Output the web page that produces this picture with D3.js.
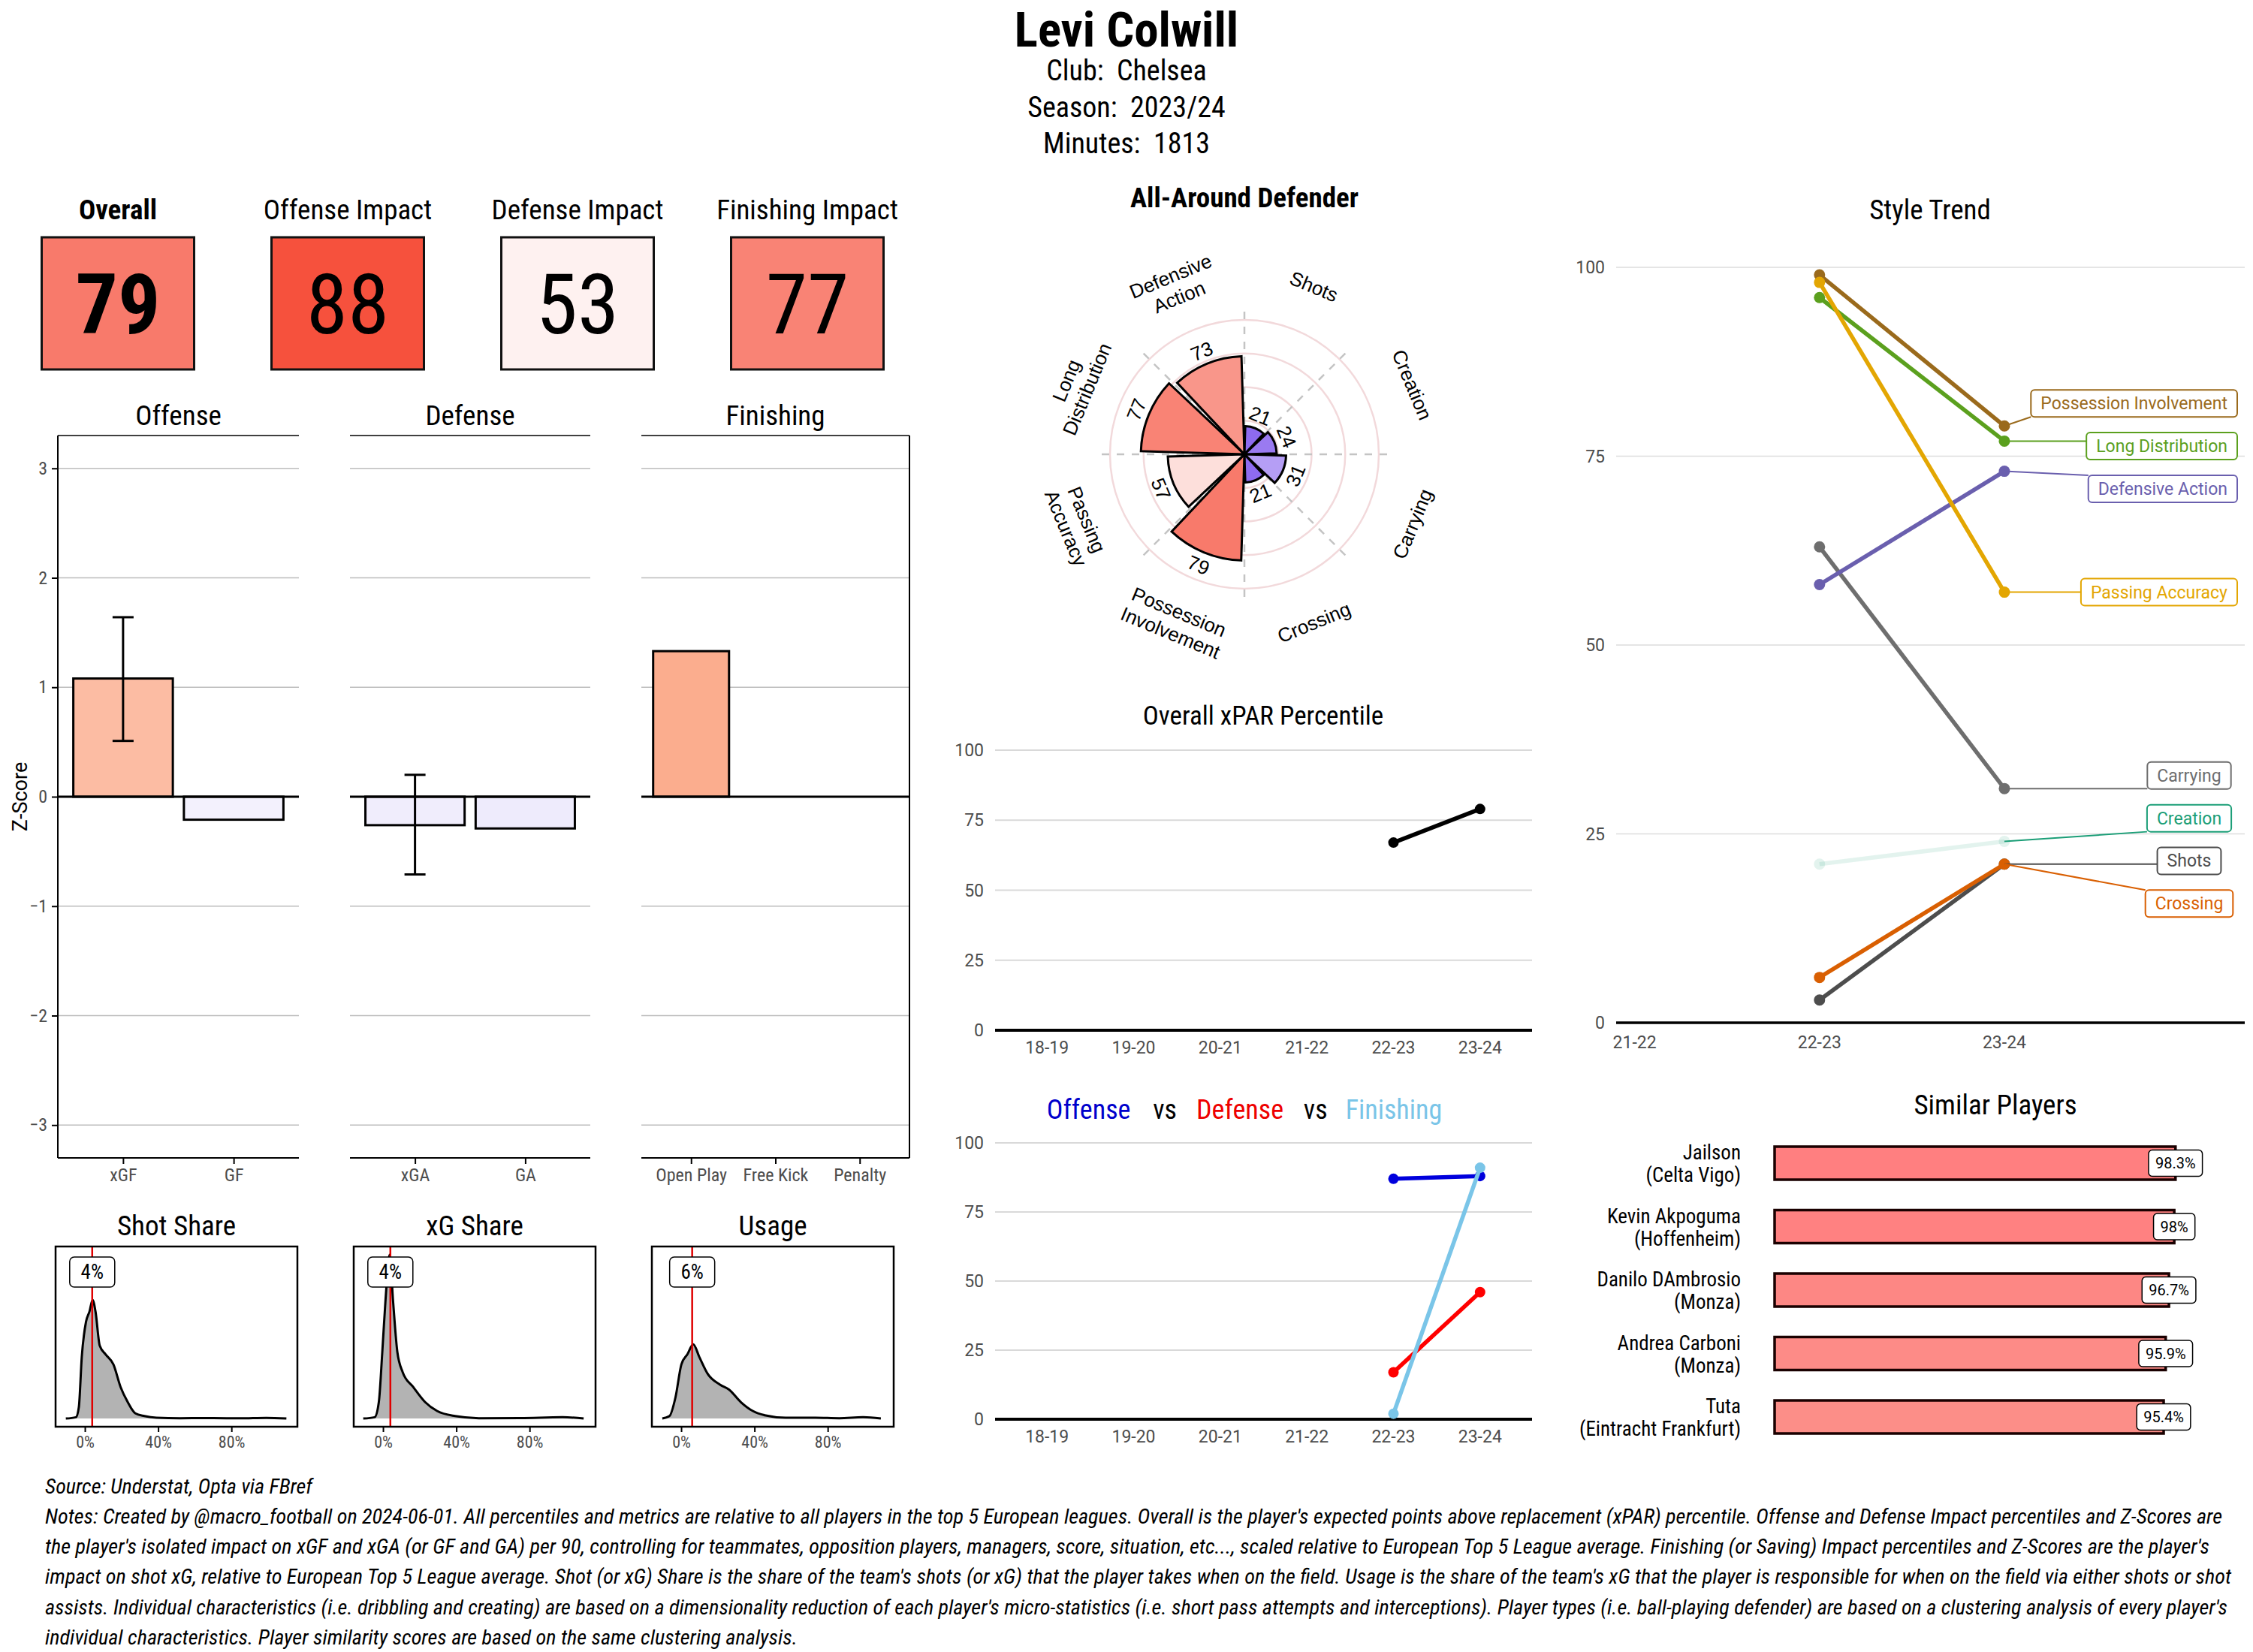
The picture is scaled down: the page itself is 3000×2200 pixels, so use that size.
<!DOCTYPE html>
<html>
<head>
<meta charset="utf-8">
<script src="https://cdn.jsdelivr.net/npm/d3@7"></script>
<style>
body { margin: 0; background: #fff; }
text { white-space: pre; }
</style>
</head>
<body>
<div id="canvas-container"></div>
<script>
// ---- data ----
var playerName = "Levi Colwill";
var infoLines = ["Club:  Chelsea", "Season:  2023/24", "Minutes:  1813"];

var scoreNames = ["Overall", "Offense Impact", "Defense Impact", "Finishing Impact"];
var scoreValues = [79, 88, 53, 77];

var offenseCats = ["xGF", "GF"];
var offenseZ = [1.08, -0.21];
var offenseErr = [0.51, 1.64];      // interval on xGF
var defenseCats = ["xGA", "GA"];
var defenseZ = [-0.26, -0.29];
var defenseErr = [-0.71, 0.20];     // interval on xGA
var finishCats = ["Open Play", "Free Kick", "Penalty"];
var finishZ = [1.33, 0, 0];
var zTicks = [-3, -2, -1, 0, 1, 2, 3];

var shareTitles = ["Shot Share", "xG Share", "Usage"];
var shareValues = [0.04, 0.04, 0.06];
var shareTicks = [0, 0.4, 0.8];
// density curves: [share %, density]
var shotShareDens = [[-10.4,0],[-4.9,0.08],[-3.3,0.69],[-1.7,3.76],[0.6,5.9],[2.5,6.53],[4.2,7.24],[5.8,6.53],[8.1,4.45],[11.3,3.92],[15.6,3.3],[19.5,1.92],[23.4,1.0],[27.6,0.31],[32.5,0.15],[39,0.05],[52,0.02],[70,0.03],[84.6,0.01],[99,0.04],[110,0]];
var xgShareDens = [[-10.8,0],[-4.6,0.08],[-2.3,1.0],[-0.4,4.07],[1.3,7.14],[3.6,10],[5.5,7.14],[7.8,4.07],[10.7,2.84],[16.5,1.92],[23,1.0],[29.5,0.46],[39.3,0.15],[52.3,0.02],[75,0.03],[98,0.08],[109.5,0]];
var usageDens = [[-10.3,0],[-6.4,0.15],[-3.1,1.3],[0.1,3.3],[3.4,3.92],[6.6,4.53],[9.9,3.76],[14.7,2.69],[21.2,2.07],[26.1,1.77],[32.6,1.0],[39.1,0.46],[45.6,0.2],[57,0.05],[73.3,0.05],[86.3,0.02],[99.3,0.08],[109,0]];

var styleTitle = "All-Around Defender";
var styleCats = ["Shots", "Creation", "Carrying", "Crossing", "Possession\nInvolvement", "Passing\nAccuracy", "Long\nDistribution", "Defensive\nAction"];
var styleValues = [21, 24, 31, 21, 79, 57, 77, 73];
var polarGrid = [25, 50, 75, 100];

var seasons = ["18-19", "19-20", "20-21", "21-22", "22-23", "23-24"];
var pctTicks = [0, 25, 50, 75, 100];
var xparSeasons = ["22-23", "23-24"];
var xparValues = [67, 79];
var offensePct = [87, 88];
var defensePct = [17, 46];
var finishingPct = [2, 91];

var trendSeasons = ["21-22", "22-23", "23-24"];
var trendNames = ["Carrying", "Shots", "Creation", "Crossing", "Defensive Action", "Long Distribution", "Possession Involvement", "Passing Accuracy"];
var trend2223 = [63, 3, 21, 6, 58, 96, 99, 98];
var trend2324 = [31, 21, 24, 21, 73, 77, 79, 57];

var simNames = ["Jailson", "Kevin Akpoguma", "Danilo DAmbrosio", "Andrea Carboni", "Tuta"];
var simClubs = ["Celta Vigo", "Hoffenheim", "Monza", "Monza", "Eintracht Frankfurt"];
var simValues = [98.3, 98, 96.7, 95.9, 95.4];

var sourceLine = "Source: Understat, Opta via FBref";
var noteLines = [
    "Notes: Created by @macro_football on 2024-06-01. All percentiles and metrics are relative to all players in the top 5 European leagues. Overall is the player's expected points above replacement (xPAR) percentile. Offense and Defense Impact percentiles and Z-Scores are",
    "the player's isolated impact on xGF and xGA (or GF and GA) per 90, controlling for teammates, opposition players, managers, score, situation, etc..., scaled relative to European Top 5 League average. Finishing (or Saving) Impact percentiles and Z-Scores are the player's",
    "impact on shot xG, relative to European Top 5 League average. Shot (or xG) Share is the share of the team's shots (or xG) that the player takes when on the field. Usage is the share of the team's xG that the player is responsible for when on the field via either shots or shot",
    "assists. Individual characteristics (i.e. dribbling and creating) are based on a dimensionality reduction of each player's micro-statistics (i.e. short pass attempts and interceptions). Player types (i.e. ball-playing defender) are based on a clustering analysis of every player's",
    "individual characteristics. Player similarity scores are based on the same clustering analysis."
];

// ---- styles ----
var COND = "'Roboto Condensed','Liberation Sans Narrow','Arial Narrow',Roboto,sans-serif";
var ROBO = "Roboto,'Liberation Sans',sans-serif";
var ARIAL = "'Liberation Sans',Arial,Helvetica,sans-serif";
var GREY = "#4d4d4d";

var pctColor = d3.scaleLinear().domain([0, 50, 100]).range(["#3c00e5", "#ffffff", "#f31a00"]);
var zColor = d3.scaleLinear().domain([-3, 0, 3]).range(["#5030e0", "#ffffff", "#f74500"]);
var trendColor = d3.scaleOrdinal()
    .domain(["Carrying", "Shots", "Creation", "Crossing", "Defensive Action", "Long Distribution", "Possession Involvement", "Passing Accuracy"])
    .range(["#6e6e6e", "#4d4d4d", "#1b9e77", "#d95f02", "#6a5fae", "#5ba01e", "#9a6a1c", "#e3a602"]);

var W = 3000, H = 2200;
var svg = d3.select("#canvas-container").append("svg")
    .attr("width", W)
    .attr("height", H);
svg.append("rect").attr("width", W).attr("height", H).attr("fill", "#fff");

function txt(x, y, s, size, fam, opts) {
    opts = opts || {};
    var t = svg.append("text")
        .attr("x", x).attr("y", y)
        .attr("font-size", size)
        .attr("font-family", fam)
        .attr("text-anchor", opts.anchor || "middle")
        .attr("fill", opts.fill || "#000")
        .text(s);
    if (opts.weight) t.attr("font-weight", opts.weight);
    if (opts.style) t.attr("font-style", opts.style);
    return t;
}

drawHeader();
drawScores();
drawZPanels();
drawShares();
drawPolar();
drawXpar();
drawOdf();
drawTrend();
drawSimilar();
drawNotes();

function drawHeader() {
    txt(1500, 62, playerName, 65, COND, {weight: "bold"});
    for (var i = 0; i < infoLines.length; i++) {
        txt(1500, 107 + i * 48.5, infoLines[i], 38, COND);
    }
}

function drawScores() {
    var x = d3.scalePoint().domain(scoreNames).range([157, 1075]);
    var bw = 203, top = 316, bh = 176;
    scoreNames.forEach(function(n, i) {
        var cx = x(n);
        txt(cx, 292, n, 37, COND, {weight: i == 0 ? "bold" : null});
        svg.append("rect")
            .attr("x", cx - bw/2).attr("y", top)
            .attr("width", bw).attr("height", bh)
            .attr("fill", pctColor(scoreValues[i]))
            .attr("stroke", "#111").attr("stroke-width", 3);
        txt(cx, top + bh/2 + 40, scoreValues[i], 112, COND, {weight: i == 0 ? "bold" : null});
    });
}

function drawZPanels() {
    var y = d3.scaleLinear().domain([-3.3, 3.3]).range([1542, 580]);
    var panels = [
        {title: "Offense", x0: 77, x1: 398, cats: offenseCats, vals: offenseZ, err: offenseErr, left: true},
        {title: "Defense", x0: 466, x1: 786, cats: defenseCats, vals: defenseZ, err: defenseErr},
        {title: "Finishing", x0: 854, x1: 1211, cats: finishCats, vals: finishZ, right: true}
    ];
    panels.forEach(function(p) {
        var x = d3.scalePoint().domain(p.cats).range([p.x0, p.x1]).padding(0.59);
        var bwid = x.step() * 0.9;
        var g = svg.append("g");
        zTicks.forEach(function(t) {
            if (t == 0) return;
            g.append("line").attr("x1", p.x0).attr("x2", p.x1)
                .attr("y1", y(t)).attr("y2", y(t))
                .attr("stroke", "#bdbdbd").attr("stroke-width", 1.5);
        });
        p.cats.forEach(function(c, i) {
            var v = p.vals[i];
            g.append("rect")
                .attr("x", x(c) - bwid/2)
                .attr("y", Math.min(y(v), y(0)))
                .attr("width", bwid)
                .attr("height", Math.abs(y(v) - y(0)))
                .attr("fill", zColor(v))
                .attr("stroke", "#000").attr("stroke-width", 3);
        });
        g.append("line").attr("x1", p.x0).attr("x2", p.x1)
            .attr("y1", y(0)).attr("y2", y(0))
            .attr("stroke", "#000").attr("stroke-width", 3);
        if (p.err) {
            var ex = x(p.cats[0]);
            g.append("line").attr("x1", ex).attr("x2", ex)
                .attr("y1", y(p.err[0])).attr("y2", y(p.err[1]))
                .attr("stroke", "#000").attr("stroke-width", 3);
            p.err.forEach(function(e) {
                g.append("line").attr("x1", ex - 14).attr("x2", ex + 14)
                    .attr("y1", y(e)).attr("y2", y(e))
                    .attr("stroke", "#000").attr("stroke-width", 3);
            });
        }
        // frame
        g.append("line").attr("x1", p.x0).attr("x2", p.x1).attr("y1", 580).attr("y2", 580)
            .attr("stroke", "#000").attr("stroke-width", 1.5);
        var xa = g.append("g").attr("transform", "translate(0,1542)")
            .call(d3.axisBottom(x).tickSize(8).tickPadding(6));
        xa.select(".domain").attr("d", "M" + p.x0 + ",0H" + p.x1).attr("stroke-width", 2);
        xa.selectAll(".tick line").attr("stroke-width", 2);
        xa.selectAll("text").attr("font-size", 24).attr("font-family", COND).attr("fill", GREY);
        if (p.left) {
            var ya = g.append("g").attr("transform", "translate(" + p.x0 + ",0)")
                .call(d3.axisLeft(y).tickValues(zTicks).tickFormat(d3.format("d")).tickSize(8).tickPadding(6));
            ya.select(".domain").attr("d", "M0,580V1542").attr("stroke-width", 2);
            ya.selectAll(".tick line").attr("stroke-width", 2);
            ya.selectAll("text").attr("font-size", 24).attr("font-family", COND).attr("fill", GREY);
            svg.append("text")
                .attr("transform", "translate(36," + y(0) + ") rotate(-90)")
                .attr("text-anchor", "middle")
                .attr("font-size", 27).attr("font-family", ROBO)
                .text("Z-Score");
        }
        if (p.right) {
            g.append("line").attr("x1", p.x1).attr("x2", p.x1).attr("y1", 580).attr("y2", 1542)
                .attr("stroke", "#000").attr("stroke-width", 2);
        }
        txt((p.x0 + p.x1)/2, 566, p.title, 37, COND);
    });
}

function drawShares() {
    var dens = [shotShareDens, xgShareDens, usageDens];
    var lefts = [74, 471, 868];
    var pw = 322, top = 1660, bot = 1900;
    shareTitles.forEach(function(title, k) {
        var x0 = lefts[k];
        var x = d3.scaleLinear().domain([-0.16, 1.16]).range([x0, x0 + pw]);
        var y = d3.scaleLinear().domain([-0.5, 10.5]).range([bot, top]);
        var pts = dens[k];
        var g = svg.append("g");
        var area = d3.area()
            .x(function(d) { return x(d[0] / 100); })
            .y0(y(0))
            .y1(function(d) { return y(d[1]); })
            .curve(d3.curveMonotoneX);
        var line = d3.line()
            .x(function(d) { return x(d[0] / 100); })
            .y(function(d) { return y(d[1]); })
            .curve(d3.curveMonotoneX);
        g.append("path").attr("d", area(pts)).attr("fill", "#b3b3b3");
        g.append("path").attr("d", line(pts)).attr("fill", "none")
            .attr("stroke", "#000").attr("stroke-width", 3);
        var vx = x(shareValues[k]);
        g.append("line").attr("x1", vx).attr("x2", vx).attr("y1", top).attr("y2", bot)
            .attr("stroke", "#e00000").attr("stroke-width", 2.5);
        g.append("rect").attr("x", vx - 30).attr("y", 1674).attr("width", 60).attr("height", 40)
            .attr("rx", 6).attr("fill", "#fff").attr("stroke", "#000").attr("stroke-width", 1.5);
        txt(vx, 1703, Math.round(shareValues[k] * 100) + "%", 27, COND);
        g.append("rect").attr("x", x0).attr("y", top).attr("width", pw).attr("height", bot - top)
            .attr("fill", "none").attr("stroke", "#000").attr("stroke-width", 2.5);
        var xa = g.append("g").attr("transform", "translate(0," + bot + ")")
            .call(d3.axisBottom(x).tickValues(shareTicks).tickFormat(d3.format(".0%")).tickSize(7).tickPadding(5));
        xa.select(".domain").remove();
        xa.selectAll(".tick line").attr("stroke-width", 2);
        xa.selectAll("text").attr("font-size", 22).attr("font-family", COND).attr("fill", GREY);
        txt(x0 + pw/2, 1645, title, 37, COND);
    });
}

function drawPolar() {
    var cx = 1657, cy = 605;
    var r = d3.scaleLinear().domain([0, 100]).range([0, 179]);
    var g = svg.append("g").attr("transform", "translate(" + cx + "," + cy + ")");
    txt(cx, 276, styleTitle, 37, COND, {weight: "bold"});
    polarGrid.forEach(function(v) {
        g.append("circle").attr("r", r(v)).attr("fill", "none")
            .attr("stroke", "#f2d9db").attr("stroke-width", 2.5);
    });
    var n = styleCats.length, sec = 2 * Math.PI / n;
    for (var k = 0; k < n; k++) {
        var a = k * sec;
        g.append("line").attr("x1", 0).attr("y1", 0)
            .attr("x2", 196 * Math.sin(a)).attr("y2", -196 * Math.cos(a))
            .attr("stroke", "#c4c4c4").attr("stroke-width", 2.5)
            .attr("stroke-dasharray", "10,10");
    }
    var arc = d3.arc().innerRadius(0);
    styleValues.forEach(function(v, i) {
        g.append("path")
            .attr("d", arc({outerRadius: r(v), startAngle: i * sec + 0.03, endAngle: (i + 1) * sec - 0.03}))
            .attr("fill", pctColor(v))
            .attr("stroke", "#000").attr("stroke-width", 3);
    });
    function rot(a) {
        var deg = a * 180 / Math.PI;
        return (deg > 90 && deg < 270) ? deg - 180 : deg;
    }
    styleValues.forEach(function(v, i) {
        var a = (i + 0.5) * sec, rr = r(v) + 18;
        g.append("text")
            .attr("transform", "translate(" + rr * Math.sin(a) + "," + (-rr * Math.cos(a)) + ") rotate(" + rot(a) + ")")
            .attr("text-anchor", "middle").attr("dy", "0.36em")
            .attr("font-size", 26).attr("font-family", ARIAL)
            .text(v);
    });
    styleCats.forEach(function(c, i) {
        var a = (i + 0.5) * sec, R = 242;
        var lines = c.split("\n");
        var t = g.append("text")
            .attr("transform", "translate(" + R * Math.sin(a) + "," + (-R * Math.cos(a)) + ") rotate(" + rot(a) + ")")
            .attr("text-anchor", "middle")
            .attr("font-size", 26).attr("font-family", ARIAL);
        lines.forEach(function(l, j) {
            t.append("tspan").attr("x", 0)
                .attr("y", (j - (lines.length - 1) / 2) * 30)
                .attr("dy", "0.36em")
                .text(l);
        });
    });
}

function lineChart(yTop, yBot, series) {
    var x = d3.scalePoint().domain(seasons).range([1325, 2040]).padding(0.6);
    var y = d3.scaleLinear().domain([0, 100]).range([yBot, yTop]);
    var g = svg.append("g");
    pctTicks.forEach(function(t) {
        if (t > 0) {
            g.append("line").attr("x1", 1325).attr("x2", 2040).attr("y1", y(t)).attr("y2", y(t))
                .attr("stroke", "#d9d9d9").attr("stroke-width", 2);
        }
        txt(1310, y(t) + 8, t, 23, ROBO, {anchor: "end", fill: GREY});
    });
    g.append("line").attr("x1", 1325).attr("x2", 2040).attr("y1", y(0)).attr("y2", y(0))
        .attr("stroke", "#000").attr("stroke-width", 4);
    seasons.forEach(function(s) {
        txt(x(s), yBot + 31, s, 23, ROBO, {fill: GREY});
    });
    var line = d3.line().x(function(d) { return x(d[0]); }).y(function(d) { return y(d[1]); });
    series.forEach(function(s) {
        var pts = xparSeasons.map(function(se, i) { return [se, s.vals[i]]; });
        g.append("path").attr("d", line(pts)).attr("fill", "none")
            .attr("stroke", s.color).attr("stroke-width", 5.5);
        pts.forEach(function(p) {
            g.append("circle").attr("cx", x(p[0])).attr("cy", y(p[1])).attr("r", 7).attr("fill", s.color);
        });
    });
    return g;
}

function drawXpar() {
    lineChart(999, 1372, [{vals: xparValues, color: "#000"}]);
    txt(1682, 965, "Overall xPAR Percentile", 35, COND);
}

function drawOdf() {
    lineChart(1522, 1890, [
        {vals: offensePct, color: "#0000dd"},
        {vals: defensePct, color: "#ff0000"},
        {vals: finishingPct, color: "#7ac5e8"}
    ]);
    var t = svg.append("text").attr("x", 1657).attr("y", 1490)
        .attr("text-anchor", "middle").attr("font-size", 36).attr("font-family", COND);
    t.append("tspan").attr("fill", "#0000cc").text("Offense");
    t.append("tspan").attr("dx", 30).attr("fill", "#000").text("vs");
    t.append("tspan").attr("dx", 26).attr("fill", "#ee0000").text("Defense");
    t.append("tspan").attr("dx", 27).attr("fill", "#000").text("vs");
    t.append("tspan").attr("dx", 24).attr("fill", "#7ac5e8").text("Finishing");
}

function drawTrend() {
    var x = d3.scaleLinear().domain([-0.1, 3.3]).range([2152, 2989]);
    var y = d3.scaleLinear().domain([0, 100]).range([1362, 356]);
    var g = svg.append("g");
    txt(2570, 292, "Style Trend", 37, COND);
    pctTicks.forEach(function(t) {
        if (t > 0) {
            g.append("line").attr("x1", 2152).attr("x2", 2989).attr("y1", y(t)).attr("y2", y(t))
                .attr("stroke", "#dddddd").attr("stroke-width", 1.5);
        }
        txt(2137, y(t) + 8, t, 23, ROBO, {anchor: "end", fill: GREY});
    });
    g.append("line").attr("x1", 2152).attr("x2", 2989).attr("y1", y(0)).attr("y2", y(0))
        .attr("stroke", "#000").attr("stroke-width", 3.5);
    trendSeasons.forEach(function(s, i) {
        txt(x(i), 1396, s, 23, ROBO, {fill: GREY});
    });
    trendNames.forEach(function(nm, i) {
        var op = nm == "Creation" ? 0.12 : 1;
        var c = trendColor(nm);
        g.append("line")
            .attr("x1", x(1)).attr("y1", y(trend2223[i]))
            .attr("x2", x(2)).attr("y2", y(trend2324[i]))
            .attr("stroke", c).attr("stroke-width", 5.5).attr("stroke-opacity", op);
        g.append("circle").attr("cx", x(1)).attr("cy", y(trend2223[i])).attr("r", 7.5)
            .attr("fill", c).attr("fill-opacity", op);
        g.append("circle").attr("cx", x(2)).attr("cy", y(trend2324[i])).attr("r", 7.5)
            .attr("fill", c).attr("fill-opacity", op);
    });
    // simple repel for the end labels
    var order = trendNames.map(function(nm, i) { return i; })
        .sort(function(a, b) { return trend2324[b] - trend2324[a] || a - b; });
    var ly = order.map(function(i) { return trend2324[i]; });
    var gap = 5.65;
    for (var it = 0; it < 200; it++) {
        for (var j = 0; j < ly.length - 1; j++) {
            var d = ly[j] - ly[j + 1];
            if (d < gap) {
                var m = (gap - d) / 2;
                ly[j] += m; ly[j + 1] -= m;
            }
        }
    }
    order.forEach(function(i, j) {
        var nm = trendNames[i], c = trendColor(nm);
        var cyL = y(ly[j]);
        var lg = svg.append("g");
        var t = lg.append("text").attr("y", cyL + 8).attr("text-anchor", "middle")
            .attr("font-size", 23).attr("font-family", ROBO).attr("fill", c).text(nm);
        var tw = t.node().getComputedTextLength();
        var bw = tw + 26, bh = 36;
        var cx = Math.min(2915, 2979 - bw / 2);
        t.attr("x", cx);
        var bx = cx - bw / 2;
        var px = x(2), py = y(trend2324[i]);
        var ty = Math.max(cyL - bh / 2, Math.min(cyL + bh / 2, py));
        lg.insert("line", "text").attr("x1", px).attr("y1", py).attr("x2", bx).attr("y2", ty)
            .attr("stroke", c).attr("stroke-width", 2);
        lg.insert("rect", "text").attr("x", bx).attr("y", cyL - bh / 2).attr("width", bw).attr("height", bh)
            .attr("rx", 5).attr("fill", "#fff").attr("stroke", c).attr("stroke-width", 2);
    });
}

function drawSimilar() {
    var x = d3.scaleLinear().domain([0, 100]).range([2363, 2906]);
    var y = d3.scalePoint().domain(simNames).range([1549, 1887]);
    var fill = d3.scaleLinear().domain([95.4, 98.3]).range(["#fc8e88", "#ff7f80"]);
    var bh = 44;
    txt(2657, 1484, "Similar Players", 37, COND);
    simNames.forEach(function(nm, i) {
        var cy = y(nm), v = simValues[i];
        svg.append("rect").attr("x", x(0)).attr("y", cy - bh / 2)
            .attr("width", x(v) - x(0)).attr("height", bh)
            .attr("fill", fill(v)).attr("stroke", "#1a0000").attr("stroke-width", 3.5);
        var t = svg.append("text").attr("text-anchor", "end")
            .attr("font-size", 27).attr("font-family", COND);
        t.append("tspan").attr("x", 2318).attr("y", cy - 5).text(nm);
        t.append("tspan").attr("x", 2318).attr("y", cy + 25).text("(" + simClubs[i] + ")");
        var lg = svg.append("g");
        var lt = lg.append("text").attr("x", x(v)).attr("y", cy + 7).attr("text-anchor", "middle")
            .attr("font-size", 20).attr("font-family", ROBO).text(v + "%");
        var tw = lt.node().getComputedTextLength();
        lg.insert("rect", "text").attr("x", x(v) - tw / 2 - 9).attr("y", cy - 17.5)
            .attr("width", tw + 18).attr("height", 35).attr("rx", 5)
            .attr("fill", "#fff").attr("stroke", "#000").attr("stroke-width", 1.5);
    });
}

function drawNotes() {
    var lens = [2899, 2882, 2911, 2906, 1002];
    txt(60, 1989, sourceLine, 27, COND, {anchor: "start", style: "italic"})
        .attr("textLength", 356).attr("lengthAdjust", "spacingAndGlyphs");
    noteLines.forEach(function(l, i) {
        txt(60, 2029 + i * 40.2, l, 27, COND, {anchor: "start", style: "italic"})
            .attr("textLength", lens[i]).attr("lengthAdjust", "spacingAndGlyphs");
    });
}
</script>
</body>
</html>
